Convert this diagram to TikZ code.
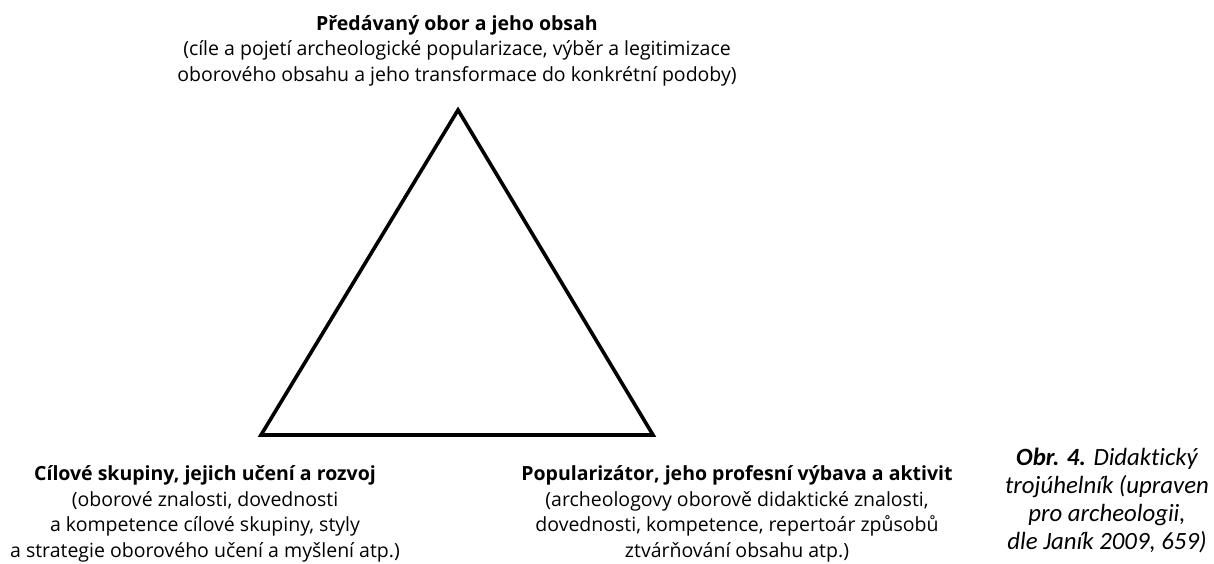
\documentclass[tikz,border=0pt]{standalone}
\usepackage{fontspec}
\setmainfont{Open Sans}
\newfontfamily\capfont[Ligatures=NoCommon]{Carlito}
\usepackage{tikz}
\usetikzlibrary{positioning}

\begin{document}
\begin{tikzpicture}[x=1pt,y=-1pt,line join=miter,
    txt/.style={align=center,inner sep=0pt,font=\fontsize{19.5}{25.5}\selectfont},
    caption/.style={align=center,inner sep=0pt,font=\capfont\itshape\fontsize{24.8}{27.7}\selectfont},
    edge/.style={draw,line width=3.6pt}]
    \useasboundingbox (0,0) rectangle (1214,563);

    \coordinate (top) at (458,110);
    \coordinate (lft) at (261,435);
    \coordinate (rgt) at (653,435);

    \node[txt] (obor) at (457,50.5) {\textbf{Předávaný obor a jeho obsah}\\
        (cíle a pojetí archeologické popularizace, výběr a legitimizace\\
        oborového obsahu a jeho transformace do konkrétní podoby)};
    \node[txt] (skup) at (205,514) {\textbf{Cílové skupiny, jejich učení a rozvoj}\\
        (oborové znalosti, dovednosti\\
        a kompetence cílové skupiny, styly\\
        a strategie oborového učení a myšlení atp.)};
    \node[txt] (pop) at (737,514) {\textbf{Popularizátor, jeho profesní výbava a aktivit}\\
        (archeologovy oborově didaktické znalosti,\\
        dovednosti, kompetence, repertoár způsobů\\
        ztvárňování obsahu atp.)};
    \node[caption] (obr) at (1107,500.5) {\textbf{Obr. 4.} Didaktický\\
        trojúhelník (upraven\\
        pro archeologii,\\
        dle Janík 2009, 659)};

    \draw[edge] (top) -- (lft) -- (rgt) -- cycle;
\end{tikzpicture}
\end{document}
